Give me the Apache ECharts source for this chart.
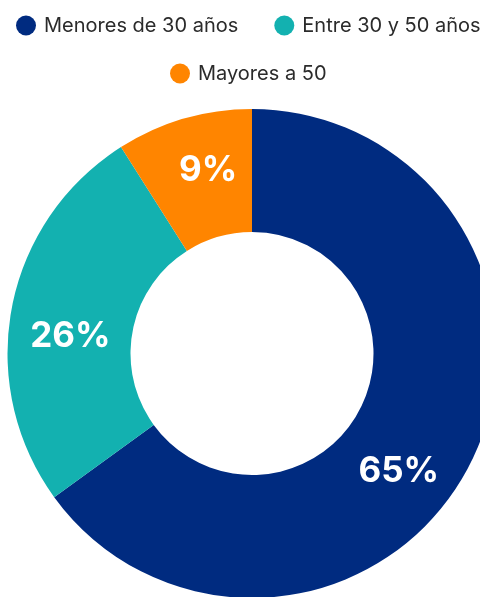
<!DOCTYPE html>
<html>
<head>
<meta charset="utf-8">
<script src="https://cdn.jsdelivr.net/npm/echarts@6/dist/echarts.min.js"></script>
<style>
html,body{margin:0;padding:0;background:#fff;}
#c{width:480px;height:597px;}
</style>
</head>
<body>
<div id="c"></div>
<script>
const categories = ['Menores de 30 años', 'Entre 30 y 50 años', 'Mayores a 50'];
const values = [65, 26, 9];
const colors = ['#002b80', '#13b1b0', '#ff8500'];
const labelOffsets = [[-19, 34], [1, 18], [8, -4]];

const chart = echarts.init(document.getElementById('c'));
const legendText = { fontFamily: 'Inter', fontSize: 20, color: '#2b2b2b', lineHeight: 20, padding: [0, 0, 0, 3] };
chart.setOption({
  animation: false,
  legend: [
    {
      data: categories.slice(0, 2),
      top: 15.5,
      left: 16,
      width: 600,
      padding: 0,
      icon: 'circle',
      itemWidth: 20,
      itemHeight: 20,
      itemGap: 36,
      selectedMode: false,
      textStyle: legendText
    },
    {
      data: categories.slice(2),
      top: 63.5,
      left: 170,
      width: 400,
      padding: 0,
      icon: 'circle',
      itemWidth: 20,
      itemHeight: 20,
      selectedMode: false,
      textStyle: legendText
    }
  ],
  series: [{
    type: 'pie',
    center: [252, 353.5],
    radius: [121.5, 244.5],
    startAngle: 90,
    clockwise: true,
    avoidLabelOverlap: false,
    emphasis: { disabled: true },
    label: {
      show: true,
      position: 'inside',
      formatter: '{c}%',
      color: '#fff',
      fontFamily: 'Inter',
      fontWeight: 'bold',
      fontSize: 35
    },
    labelLine: { show: false },
    data: categories.map((n, i) => ({
      name: n,
      value: values[i],
      itemStyle: { color: colors[i] },
      label: { offset: labelOffsets[i] }
    }))
  }]
});
</script>
</body>
</html>
